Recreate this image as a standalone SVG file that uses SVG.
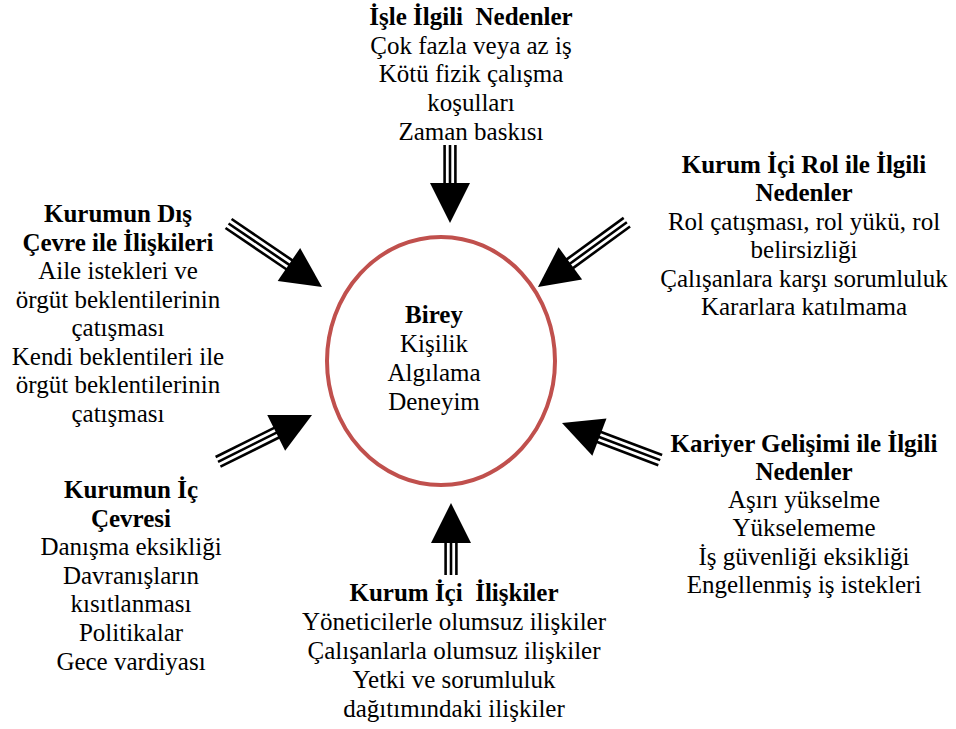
<svg xmlns="http://www.w3.org/2000/svg" width="956" height="729" viewBox="0 0 956 729">
<style>
text{font-family:"Liberation Serif","Times New Roman",serif;font-size:25px;fill:#000;text-anchor:middle}
.b{font-weight:bold}
.shaft line{stroke:#000;stroke-width:2.6}
.head{fill:#000}
</style>
<defs>
<g id="head"><polygon class="head" points="0,0 -40,-20 -40,20"/></g>
</defs>
<rect width="956" height="729" fill="#fff"/>
<g id="connectors">
<g transform="translate(450,223) rotate(90)">
<g class="shaft"><line x1="-78" y1="-5.4" x2="-39" y2="-5.4"/><line x1="-78" y1="0" x2="-39" y2="0"/><line x1="-78" y1="5.4" x2="-39" y2="5.4"/></g>
<use href="#head"/>
</g>
<g transform="translate(451,503) rotate(-90)">
<g class="shaft"><line x1="-72" y1="-5.4" x2="-39" y2="-5.4"/><line x1="-72" y1="0" x2="-39" y2="0"/><line x1="-72" y1="5.4" x2="-39" y2="5.4"/></g>
<use href="#head"/>
</g>
<g transform="translate(322,287) rotate(34.2)">
<g class="shaft"><line x1="-113" y1="-5.4" x2="-39" y2="-5.4"/><line x1="-113" y1="0" x2="-39" y2="0"/><line x1="-113" y1="5.4" x2="-39" y2="5.4"/></g>
<use href="#head"/>
</g>
<g transform="translate(538,287) rotate(143.9)">
<g class="shaft"><line x1="-110" y1="-5.4" x2="-39" y2="-5.4"/><line x1="-110" y1="0" x2="-39" y2="0"/><line x1="-110" y1="5.4" x2="-39" y2="5.4"/></g>
<use href="#head"/>
</g>
<g transform="translate(312,415) rotate(-26.5)">
<g class="shaft"><line x1="-105" y1="-5.4" x2="-39" y2="-5.4"/><line x1="-105" y1="0" x2="-39" y2="0"/><line x1="-105" y1="5.4" x2="-39" y2="5.4"/></g>
<use href="#head"/>
</g>
<g transform="translate(562,423) rotate(-159.3)">
<g class="shaft"><line x1="-105" y1="-5.4" x2="-39" y2="-5.4"/><line x1="-105" y1="0" x2="-39" y2="0"/><line x1="-105" y1="5.4" x2="-39" y2="5.4"/></g>
<use href="#head"/>
</g>
</g>
<g id="birey">
<ellipse cx="441" cy="361" rx="114" ry="124" fill="none" stroke="#c0504d" stroke-width="4"/>
<text class="b" x="434" y="323">Birey</text>
<text x="434" y="352">Kişilik</text>
<text x="434" y="381">Algılama</text>
<text x="434" y="410">Deneyim</text>
</g>
<g id="isle-ilgili">
<text class="b" x="471" y="25">İşle İlgili &#160;Nedenler</text>
<text x="471" y="53.7">Çok fazla veya az iş</text>
<text x="471" y="82.4">Kötü fizik çalışma</text>
<text x="471" y="111.1">koşulları</text>
<text x="471" y="139.8">Zaman baskısı</text>
</g>
<g id="rol">
<text class="b" x="804" y="173">Kurum İçi Rol ile İlgili</text>
<text class="b" x="804" y="201.4">Nedenler</text>
<text x="804" y="229.8">Rol çatışması, rol yükü, rol</text>
<text x="804" y="258.2">belirsizliği</text>
<text x="804" y="286.6">Çalışanlara karşı sorumluluk</text>
<text x="804" y="315">Kararlara katılmama</text>
</g>
<g id="dis-cevre">
<text class="b" x="118" y="222">Kurumun Dış</text>
<text class="b" x="118" y="250.5">Çevre ile İlişkileri</text>
<text x="118" y="279">Aile istekleri ve</text>
<text x="118" y="307.5">örgüt beklentilerinin</text>
<text x="118" y="336">çatışması</text>
<text x="118" y="364.5">Kendi beklentileri ile</text>
<text x="118" y="393">örgüt beklentilerinin</text>
<text x="118" y="421.5">çatışması</text>
</g>
<g id="ic-cevre">
<text class="b" x="131" y="498">Kurumun İç</text>
<text class="b" x="131" y="526.6">Çevresi</text>
<text x="131" y="555.2">Danışma eksikliği</text>
<text x="131" y="583.8">Davranışların</text>
<text x="131" y="612.4">kısıtlanması</text>
<text x="131" y="641">Politikalar</text>
<text x="131" y="669.6">Gece vardiyası</text>
</g>
<g id="kariyer">
<text class="b" x="804" y="451.5">Kariyer Gelişimi ile İlgili</text>
<text class="b" x="804" y="479.8">Nedenler</text>
<text x="804" y="508.1">Aşırı yükselme</text>
<text x="804" y="536.4">Yükselememe</text>
<text x="804" y="564.7">İş güvenliği eksikliği</text>
<text x="804" y="593">Engellenmiş iş istekleri</text>
</g>
<g id="iliskiler">
<text class="b" x="454" y="601">Kurum İçi &#160;İlişkiler</text>
<text x="454" y="630">Yöneticilerle olumsuz ilişkiler</text>
<text x="454" y="659">Çalışanlarla olumsuz ilişkiler</text>
<text x="454" y="688">Yetki ve sorumluluk</text>
<text x="454" y="717">dağıtımındaki ilişkiler</text>
</g>
</svg>
